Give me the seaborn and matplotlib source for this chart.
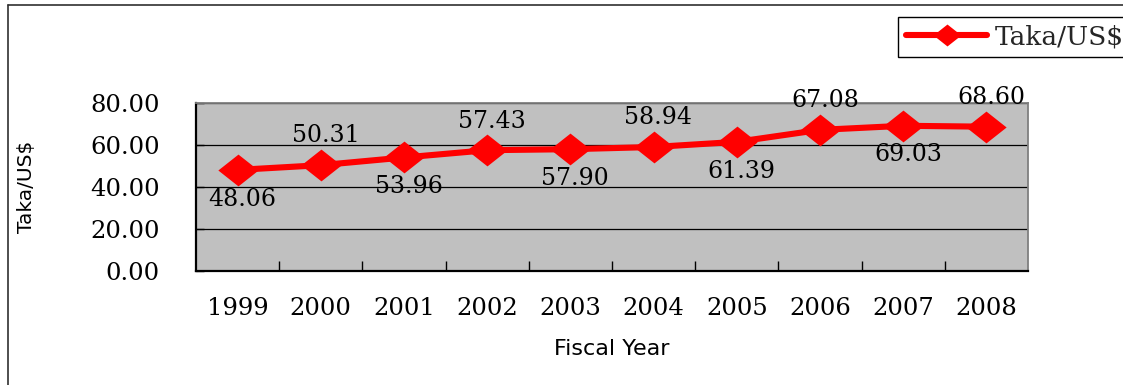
import numpy as np
import pandas as pd
import matplotlib
matplotlib.use("Agg")
import matplotlib.pyplot as plt
from matplotlib.path import Path
from matplotlib.markers import MarkerStyle
from matplotlib.lines import Line2D
from matplotlib.ticker import FormatStrFormatter, FixedLocator
import seaborn as sns

# Exchange rate data
years = [1999, 2000, 2001, 2002, 2003, 2004, 2005, 2006, 2007, 2008]
taka_per_usd = [48.06, 50.31, 53.96, 57.43, 57.90, 58.94, 61.39, 67.08, 69.03, 68.60]
label_side = [-1, 1, -1, 1, -1, 1, -1, 1, -1, 1]  # -1 below, 1 above
y_ticks = [0, 20, 40, 60, 80]
series_name = "Taka/US$"

df = pd.DataFrame({"Fiscal Year": years, series_name: taka_per_usd})

sns.set_theme(style="white")
plt.rcParams["font.family"] = ["DejaVu Serif"]

W, H = 1123, 385
fig = plt.figure(figsize=(W / 100, H / 100), dpi=100)
ax = fig.add_axes([196 / W, 1 - 271 / H, (1028 - 196) / W, (271 - 102.7) / H])
ax.set_facecolor("#C0C0C0")

# wide diamond marker
diamond = MarkerStyle(Path([(-1, 0), (0, 0.79), (1, 0), (0, -0.79), (-1, 0)],
                           [Path.MOVETO, Path.LINETO, Path.LINETO, Path.LINETO, Path.CLOSEPOLY]))

sns.lineplot(data=df, x="Fiscal Year", y=series_name, ax=ax, color="#FF0000",
             linewidth=4.4, marker=diamond, markersize=29, markeredgewidth=0,
             legend=False, zorder=3)

ax.set_xlim(1998.5, 2008.5)
ax.set_ylim(0, 80)

# y axis
ax.yaxis.set_major_locator(FixedLocator(y_ticks))
ax.yaxis.set_major_formatter(FormatStrFormatter("%.2f"))
ax.tick_params(axis="y", which="major", direction="in", length=6, width=1,
               color="black", pad=26, labelsize=17.5, labelcolor="black", left=True)
ax.grid(axis="y", color="black", linewidth=0.9)
ax.grid(axis="x", visible=False)

# x axis: labels at years, ticks at category boundaries
ax.set_xticks(years)
ax.set_xticklabels([str(y) for y in years])
ax.set_xticks(np.arange(1999.5, 2008.5, 1.0), minor=True)
ax.tick_params(axis="x", which="major", length=0, pad=19, labelsize=17.5, labelcolor="black")
ax.tick_params(axis="x", which="minor", direction="in", length=7, width=1,
               color="black", bottom=True)

for side in ["left", "bottom"]:
    ax.spines[side].set_color("black")
    ax.spines[side].set_linewidth(1.6)
for side in ["top", "right"]:
    ax.spines[side].set_color("#7F7F7F")
    ax.spines[side].set_linewidth(1.3)

# axis titles
ax.set_xlabel("Fiscal Year", family=["DejaVu Sans"], fontsize=16, color="black", va="center")
ax.xaxis.set_label_coords(0.5, -0.465)
ax.set_ylabel(series_name, family=["DejaVu Sans"], fontsize=14.5, color="black", va="center")
ax.yaxis.set_label_coords(-0.204, 0.5)

# value labels
for x, v, s in zip(years, taka_per_usd, label_side):
    ax.annotate(f"{v:.2f}", (x, v), xytext=(3.5, 21 * s), textcoords="offset points",
                ha="center", va="center", fontsize=17, color="black",
                annotation_clip=False, zorder=4)

# legend
handle = Line2D([], [], color="#FF0000", linewidth=4.4, marker=diamond,
                markersize=20, markeredgewidth=0)
leg = fig.legend([handle], [series_name], loc="upper left",
                 bbox_to_anchor=(898 / W, 1 - 16.7 / H), bbox_transform=fig.transFigure,
                 frameon=True, fancybox=False, edgecolor="black", framealpha=1,
                 fontsize=19, handlelength=3.1, handletextpad=0.27, borderpad=0.29,
                 borderaxespad=0)
leg.get_frame().set_linewidth(1.0)

# outer chart border
fig.add_artist(Line2D([8 / W, 1.0], [1 - 5 / H, 1 - 5 / H], transform=fig.transFigure,
                      color="#303030", linewidth=1.2))
fig.add_artist(Line2D([8 / W, 8 / W], [0.0, 1 - 5 / H], transform=fig.transFigure,
                      color="#303030", linewidth=1.2))

fig.savefig("out.png", dpi=100, facecolor="white")
